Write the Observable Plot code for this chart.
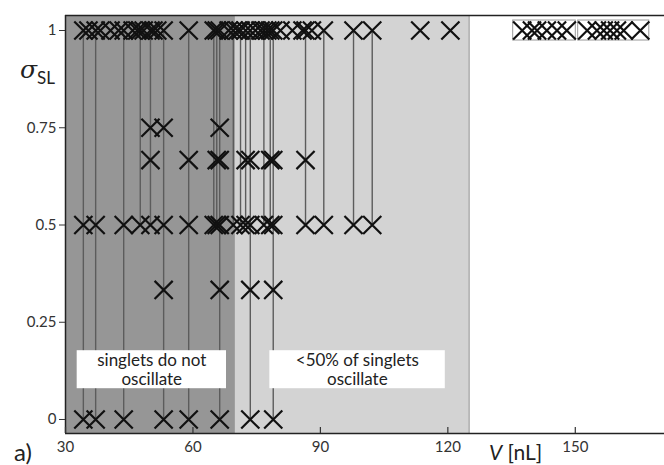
<!DOCTYPE html>
<html><head><meta charset="utf-8">
<script src="https://cdn.jsdelivr.net/npm/d3@7"></script>
<script src="https://cdn.jsdelivr.net/npm/@observablehq/plot@0.6"></script>
<style>
body{margin:0;background:#fff;}
#wrap{position:relative;width:664px;height:465px;font-family:Lato,"Open Sans",sans-serif;overflow:hidden;}
.lbl{position:absolute;color:#222;white-space:nowrap;line-height:1;}
</style></head><body>
<div id="wrap"></div>
<script>
// Drop volumes V [nL] and the sigma_SL values observed for each drop
const dropV = [
  34.2, 35.4, 37.1, 38.2, 40.6, 42.5, 43.7, 45.8, 46.9, 47.6, 48.4, 50.0, 50.7, 51.6,
  53.1, 59.0, 64.9, 65.6, 66.3, 68.4, 69.5,
  70.5, 71.2, 72.4, 73.5, 74.7, 75.9, 76.7, 77.5, 78.2, 78.9, 80.6, 83.4, 85.8, 86.5,
  88.0, 90.8, 97.8, 102.2, 113.5, 120.6
];
const dropSigma = [
  [1, 0.5, 0], [1], [1, 0.5, 0], [1], [1], [1], [1, 0.5, 0], [1], [1], [1, 0.5], [1],
  [1, 0.75, 0.667, 0.5], [1], [1],
  [1, 0.75, 0.5, 0.333, 0], [1, 0.667, 0.5, 0], [1, 0.5], [1, 0.667, 0.5],
  [1, 0.75, 0.667, 0.5, 0.333, 0], [1], [1, 0.5],
  [1], [1, 0.5], [1, 0.667, 0.5], [1, 0.667, 0.5, 0.333, 0], [1], [1], [1, 0.5], [1],
  [1, 0.667, 0.5], [1, 0.667, 0.5, 0.333, 0], [1], [1], [1], [1, 0.667, 0.5],
  [1], [1, 0.5], [1, 0.5], [1, 0.5], [1], [1]
];
// Boxed groups at sigma = 1 (large drops)
const boxedGroupA = [137.5, 139.8, 141.0, 143.3, 145.7, 148.0];
const boxedGroupB = [152.8, 155.1, 156.7, 158.2, 159.8, 161.4, 165.3];

// Shaded regimes
const regionStart = [30, 70];
const regionEnd = [70, 125];
const regionName = ["no", "few"];

// Annotations
const noteText = ["singlets do not\noscillate", "<50% of singlets\noscillate"];
const noteV = [50.3, 98.7];
const noteV1 = [32.75, 78.1];
const noteV2 = [67.9, 119.4];
const noteSigma = [0.128, 0.128];

const xTicks = [30, 60, 90, 120, 150];
const yTicks = [0, 0.25, 0.5, 0.75, 1];
const yTickLabels = ["0", "0.25", "0.5", "0.75", "1"];

const xDomain = [30, 171];
const yDomain = [-0.036, 1.0386];

const points = dropV.flatMap((v, i) => dropSigma[i].map(s => ({v, s})));
const rules = dropV.map((v, i) => ({v, lo: d3.min(dropSigma[i]), hi: d3.max(dropSigma[i])})).filter(d => d.hi > d.lo);
const regions = regionStart.map((a, i) => ({a, b: regionEnd[i], name: regionName[i]}));
const notes = noteText.map((t, i) => ({t, v: noteV[i], v1: noteV1[i], v2: noteV2[i], s: noteSigma[i]}));
const boxes = [boxedGroupA, boxedGroupB].map(g => ({a: d3.min(g), b: d3.max(g)}));
const boxedPts = [...boxedGroupA, ...boxedGroupB].map(v => ({v, s: 1}));

const chart = Plot.plot({
  width: 664, height: 465,
  marginTop: 15, marginBottom: 32, marginLeft: 65, marginRight: 0,
  style: {fontFamily: "Lato, 'Open Sans', sans-serif", fontSize: "15px", color: "#333", background: "transparent"},
  x: {domain: xDomain},
  y: {domain: yDomain},
  marks: [
    Plot.rect(regions, {x1: "a", x2: "b", y1: yDomain[0], y2: yDomain[1], fill: d => d.name === "no" ? "#969696" : "#d3d3d3"}),
    Plot.ruleX([regionEnd[1]], {stroke: "#a8a8a8", strokeWidth: 1.5}),
    Plot.ruleX(rules, {x: "v", y1: "lo", y2: "hi", stroke: "#5c5c5c", strokeWidth: 1.4}),
    Plot.rect(notes, {x1: "v1", x2: "v2", y1: d => d.s, y2: d => d.s, insetTop: -19, insetBottom: -19, fill: "white"}),
    Plot.text(notes, {x: "v", y: "s", text: "t", fontSize: 17, lineHeight: 1.12, fill: "#222"}),
    Plot.dot(points, {x: "v", y: "s", symbol: "times", r: 8.3, stroke: "#111", strokeWidth: 2.2}),
    Plot.rect(boxes, {x1: "a", x2: "b", y1: 1, y2: 1, insetLeft: -9, insetRight: -9, insetTop: -10, insetBottom: -10, fill: "white", stroke: "#999", strokeWidth: 1}),
    Plot.dot(boxedPts, {x: "v", y: "s", symbol: "times", r: 8.3, stroke: "#111", strokeWidth: 2.2}),
    Plot.ruleY([yDomain[0]], {stroke: "#222", strokeWidth: 1.5}),
    Plot.ruleY([yDomain[1]], {stroke: "#222", strokeWidth: 1.5}),
    Plot.ruleX([xDomain[0]], {stroke: "#222", strokeWidth: 1.5}),
    Plot.axisY({ticks: yTicks, tickFormat: (d, i) => yTickLabels[i], tickSize: 6, tickPadding: 3, label: null, fontSize: 15}),
    Plot.axisX({ticks: xTicks, tickSize: 0, tickPadding: 8, label: null, fontSize: 15}),
    Plot.tickX(xTicks, {x: d => d, insetTop: 465 - 15 - 32 - 6, stroke: "#333", strokeWidth: 1.2})
  ]
});
const wrap = document.getElementById("wrap");
chart.style.position = "absolute";
chart.style.left = "0px";
chart.style.top = "0px";
wrap.appendChild(chart);

function addLabel(html, left, top, size) {
  const el = document.createElement("div");
  el.className = "lbl";
  el.innerHTML = html;
  el.style.left = left + "px";
  el.style.top = top + "px";
  el.style.fontSize = size + "px";
  wrap.appendChild(el);
}
addLabel('<span style="font-style:italic;font-family:\'DejaVu Serif\',serif;font-size:25px">σ</span><span style="font-size:17px;position:relative;top:6px">SL</span>', 20, 56, 25);
addLabel('<span style="font-style:italic">V</span> [nL]', 489, 441, 21);
addLabel('a)', 14, 440, 24);
</script>
</body></html>
